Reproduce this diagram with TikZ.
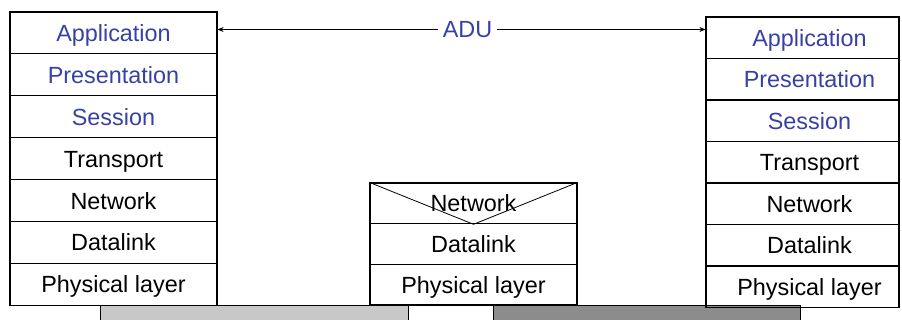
\documentclass[tikz,border=0pt]{standalone}
\usepackage{fontspec}
\setmainfont{Liberation Sans}
\usetikzlibrary{arrows.meta,positioning}
\definecolor{osiblue}{RGB}{55,65,165}
\definecolor{linklight}{RGB}{200,200,200}
\definecolor{linkdark}{RGB}{140,140,140}

\begin{document}
\begin{tikzpicture}[x=0.5pt, y=-0.5pt,
    layer/.style={draw, line width=0.6pt, inner sep=0pt, text height=9pt, text depth=0.5pt,
        font=\fontsize{11.7}{14}\selectfont},
    upper/.style={layer, text=osiblue},
    lower/.style={layer},
    rtext/.style={execute at begin node=\hspace*{7pt}}]
    \useasboundingbox (0,0) rectangle (902,320);
    % links
    \path[draw, fill = linklight](100,305) rectangle (408,340);
    \path[draw, fill = linkdark](493,305) rectangle (800,340);
    % left host
    \foreach \name/\txt/\sty [count=\i] in {lapp/Application/upper, lpre/Presentation/upper,
        lses/Session/upper, ltra/Transport/lower, lnet/Network/lower,
        ldat/Datalink/lower, lphy/Physical layer/lower}
        \node[\sty, minimum width=103.5pt, minimum height=20.95pt] (\name) at (113.5,{12+41.9*(\i-0.5)}) {\txt};
    % router
    \foreach \name/\txt [count=\i] in {mnet/Network, mdat/Datalink, mphy/Physical layer}
        \node[lower, minimum width=103.5pt, minimum height=20.35pt] (\name) at (473.5,{183+40.7*(\i-0.5)}) {\txt};
    \path[draw](mnet.north west)to(mnet.south)to(mnet.north east);
    % right host
    \foreach \name/\txt/\sty [count=\i] in {rapp/Application/upper, rpre/Presentation/upper,
        rses/Session/upper, rtra/Transport/lower, rnet/Network/lower,
        rdat/Datalink/lower, rphy/Physical layer/lower}
        \node[\sty, rtext, minimum width=96.5pt, minimum height=20.75pt] (\name) at (802.5,{17+41.5*(\i-0.5)}) {\txt};
    % ADU
    \node[text=osiblue, font=\fontsize{11.7}{14}\selectfont, inner sep=2pt] (adu) at (467.5,29.5) {ADU};
    \path[draw, -{Stealth[length=3pt, width=2.5pt]}](adu.west)to(lapp.east |- adu.west);
    \path[draw, -{Stealth[length=3pt, width=2.5pt]}](adu.east)to(rapp.west |- adu.east);
\end{tikzpicture}
\end{document}
